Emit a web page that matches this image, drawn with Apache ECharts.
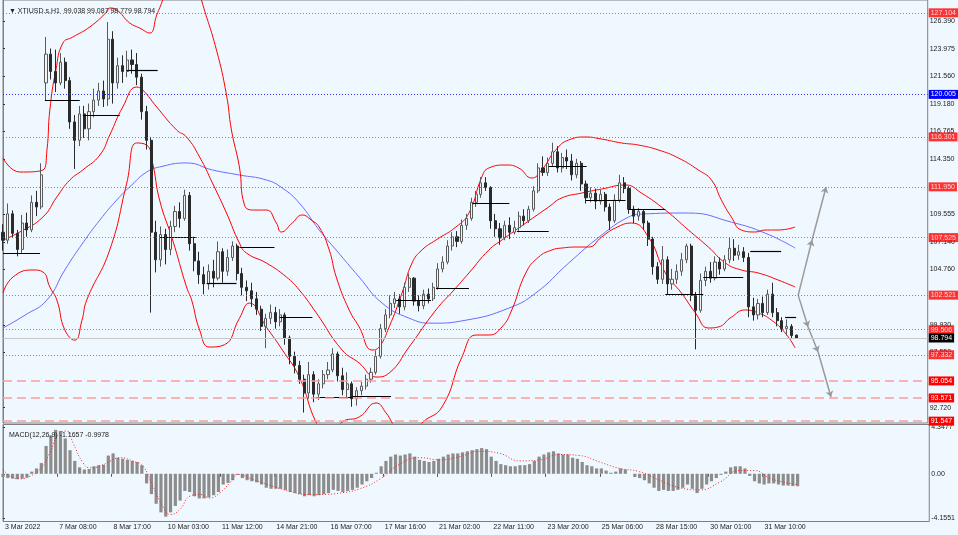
<!DOCTYPE html>
<html><head><meta charset="utf-8">
<script src="https://cdn.jsdelivr.net/npm/echarts@6/dist/echarts.min.js"></script>
<style>html,body{margin:0;padding:0;background:#F0F8FF;}#c{width:958px;height:535px;}</style>
</head><body><div id="c"></div>
<script>
// ---------- DATA ----------
const HOURS_PER_CANDLE = 3;
const xTickLabels = ['3 Mar 2022','7 Mar 08:00','8 Mar 17:00','10 Mar 03:00','11 Mar 12:00','14 Mar 21:00','16 Mar 07:00','17 Mar 16:00','21 Mar 02:00','22 Mar 11:00','23 Mar 20:00','25 Mar 06:00','28 Mar 15:00','30 Mar 01:00','31 Mar 10:00'];
const priceTicks = [126.390,123.975,121.560,119.180,116.765,114.350,109.555,107.140,104.760,99.930,97.550,92.720];
const macdTicks = [4.3477,0,-4.1551];
// open, close, low, high
const candleOHLC = [
[108.0,107.3,106.4,108.7],[107.3,109.6,107.0,110.5],[109.6,107.9,107.5,109.9],[107.9,106.5,105.9,108.2],[106.5,108.8,106.2,109.5],
[108.8,108.2,107.6,109.7],[108.2,110.6,108.0,111.2],[110.6,110.2,109.4,111.6],[110.2,113.0,110.0,114.0],[121.0,123.5,119.5,125.0],
[123.5,122.0,121.3,124.0],[122.0,121.0,120.2,123.9],[121.0,122.8,120.8,123.6],[122.8,121.2,120.5,123.2],[121.2,117.6,117.0,121.5],
[117.6,116.0,113.5,118.2],[116.0,118.3,115.5,119.0],[118.3,117.0,116.2,119.0],[117.0,118.5,116.0,119.2],[118.5,119.5,118.0,120.5],
[119.5,120.3,119.0,121.0],[120.3,119.6,118.9,121.2],[119.6,124.8,119.0,126.3],[124.8,121.0,119.2,125.5],[121.0,122.5,120.5,123.2],
[122.5,122.0,121.0,123.4],[122.0,123.0,121.5,123.8],[123.0,122.6,121.8,123.9],[122.6,121.5,120.8,123.6],[121.5,118.5,117.8,121.8],
[118.5,116.0,115.2,119.0],[116.0,108.0,101.0,116.3],[108.0,105.6,104.5,109.0],[105.6,107.8,105.0,108.5],[107.8,106.5,105.2,108.3],
[106.5,108.5,106.0,109.0],[108.5,109.8,108.0,110.3],[109.8,109.2,108.4,110.6],[109.2,111.2,109.0,111.7],[111.2,107.0,106.4,111.5],
[107.0,105.5,104.6,107.6],[105.5,104.3,103.5,106.3],[104.3,103.5,102.6,105.0],[103.5,104.6,103.0,105.2],[104.6,104.0,103.2,105.6],
[104.0,106.3,103.8,107.2],[106.3,104.6,103.6,106.6],[104.6,105.8,104.2,106.5],[105.8,106.8,105.5,107.2],[106.8,104.4,103.8,107.0],
[104.4,103.2,102.5,104.9],[103.2,102.9,102.0,103.8],[102.9,102.2,101.5,103.6],[102.2,101.3,100.8,102.8],[101.3,99.8,99.4,101.6],
[99.8,100.5,97.9,100.9],[100.5,101.0,100.0,101.7],[101.0,100.2,99.6,101.5],[100.2,100.8,99.8,101.3],[100.8,98.8,98.2,101.0],
[98.8,97.2,96.5,99.0],[97.2,96.4,95.7,97.6],[96.4,95.2,94.8,96.8],[95.2,94.0,92.3,95.6],[94.0,95.6,93.5,96.7],
[95.6,93.9,93.2,95.9],[93.9,94.8,93.4,95.2],[94.8,95.6,94.4,96.0],[95.6,96.0,95.2,96.7],[96.0,97.4,95.8,97.9],
[97.4,95.5,95.0,97.6],[95.5,94.3,93.8,96.2],[94.3,94.8,93.5,95.8],[94.8,93.5,92.8,95.0],[93.5,94.2,92.9,94.5],
[94.2,94.6,93.8,95.0],[94.6,95.2,94.3,95.6],[95.2,95.8,94.9,96.2],[95.8,97.2,95.6,97.7],[97.2,99.6,97.0,100.0],
[99.6,100.8,99.3,101.3],[100.8,101.8,100.5,102.5],[101.8,102.2,101.4,102.8],[102.2,101.5,100.9,102.6],[101.5,103.2,101.2,103.6],
[103.2,104.0,102.8,104.4],[104.0,102.0,101.6,104.1],[102.0,101.6,101.1,102.5],[101.6,102.6,101.3,103.0],[102.6,102.2,101.8,103.1],
[102.2,103.2,102.0,103.6],[103.2,104.8,103.0,105.3],[104.8,105.4,104.5,105.9],[105.4,106.8,105.2,107.3],[106.8,107.6,106.4,108.0],
[107.6,107.2,106.7,108.1],[107.2,108.6,107.0,109.1],[108.6,109.2,108.2,109.6],[109.2,110.6,109.0,111.0],[110.6,111.3,110.2,111.6],
[111.3,112.3,111.0,112.8],[112.3,111.9,111.6,112.8],[111.9,109.0,108.3,112.0],[109.0,108.3,107.6,109.6],[108.3,107.5,106.9,108.8],
[107.5,108.6,107.3,109.0],[108.6,108.0,107.4,109.3],[108.0,108.4,107.8,109.0],[108.4,109.4,108.0,109.8],[109.4,109.0,108.6,110.0],
[109.0,110.0,108.8,110.3],[110.0,111.6,109.8,112.0],[111.6,113.6,111.4,114.0],[113.6,113.2,112.9,114.6],[113.2,114.0,112.9,114.5],
[114.0,115.0,113.7,115.8],[115.0,113.6,113.2,115.5],[113.6,114.5,113.2,114.9],[114.5,114.2,113.5,115.2],[114.2,113.0,112.5,114.8],
[113.0,114.0,112.7,114.4],[114.0,112.2,111.6,114.2],[112.2,111.0,110.5,112.5],[111.0,111.4,110.6,111.9],[111.4,110.7,110.0,111.8],
[110.7,111.3,110.4,111.7],[111.3,110.2,109.8,111.5],[110.2,109.0,108.2,110.5],[109.0,110.8,108.8,111.3],[110.8,112.3,110.6,113.0],
[112.3,111.8,111.4,112.8],[111.8,110.0,109.6,112.0],[110.0,109.4,108.8,110.3],[109.4,109.8,109.0,110.1],[109.8,108.8,108.2,110.0],
[108.8,107.4,106.8,109.0],[107.4,105.0,104.3,107.6],[105.0,103.9,103.5,105.4],[103.9,105.6,103.5,106.8],[105.6,103.5,102.6,105.9],
[103.5,103.9,103.0,104.8],[103.9,104.6,103.5,105.2],[104.6,105.6,104.2,106.2],[105.6,106.8,105.3,107.0],[106.8,102.5,102.0,107.0],
[102.5,101.2,97.8,102.8],[101.2,103.8,101.0,104.4],[103.8,104.6,103.3,105.0],[104.6,104.0,103.6,105.4],[104.0,105.4,103.8,105.9],
[105.4,104.8,104.3,105.8],[104.8,105.6,104.6,106.0],[105.6,106.6,105.3,107.5],[106.6,106.0,105.5,107.4],[106.0,106.3,105.6,106.9],
[106.3,105.8,105.4,106.7],[105.8,101.5,100.6,106.2],[101.5,100.8,100.3,102.3],[100.8,101.8,100.4,102.2],[101.8,101.0,100.6,102.4],
[101.0,102.6,100.8,103.0],[102.6,101.0,100.6,103.6],[101.0,100.3,99.8,101.4],[100.3,99.6,99.3,100.6],[99.6,99.8,99.0,100.4],
[99.8,99.0,98.7,100.0],[99.038,98.794,98.779,99.087]
];
// Bollinger bands and MA: [hour index, price]
const bbUpper = [[0,114.46],[10.6,113.24],[25.1,113.42],[27.6,115.16],[29.4,118.64],[33.2,122.12],[37.6,124.47],[43.8,124.99],[54.5,125.87],[65.1,127.17],[67,127.52],[71.4,127.35],[79.5,126.22],[85.8,125.78],[92.1,125.34],[96.5,126.91],[100.2,128.22],[107.7,131.7],[117.1,132.13],[124.6,128.22],[134,123.87],[140.3,119.95],[143.4,116.9],[148.4,113.68],[151.6,110.37],[157.8,109.93],[165.3,109.93],[171.6,108.8],[174.7,108.02],[181.6,108.8],[187.9,109.5],[193.5,109.06],[198.5,108.45],[204.8,106.45],[209.2,104.1],[217.3,101.23],[223.6,99.75],[231.7,97.74],[236.1,98.0],[242.4,99.75],[250.5,102.71],[256.8,105.32],[263,106.45],[271.8,107.32],[284.3,108.45],[292.5,109.67],[300.6,112.81],[305,113.59],[315.7,113.85],[323.8,113.59],[331.9,112.72],[338.2,113.42],[347,115.16],[355.1,116.03],[365.8,116.29],[375.8,116.11],[388.3,115.77],[398.9,115.59],[411.4,115.16],[424,114.46],[436.5,113.42],[444.7,112.55],[451,110.8],[457.2,109.33],[463.5,108.19],[472.3,108.02],[478.5,108.19],[486.6,108.19],[497.3,108.45]];
const bbMiddle = [[0,107.32],[10.6,108.02],[25.1,109.33],[33.8,111.07],[42,112.55],[50.1,113.42],[60.8,114.72],[67,116.46],[75.2,118.9],[83.9,120.64],[87.7,120.38],[96.5,118.9],[109,116.9],[115.2,116.29],[123.4,114.55],[131.5,112.28],[140.3,109.67],[148.4,107.06],[152.8,106.19],[165.3,105.32],[177.9,104.1],[186,102.97],[196.7,100.97],[212.9,97.74],[223.6,96.61],[234.2,95.39],[242.4,95.74],[254.9,98.0],[271.8,101.23],[283.1,102.97],[292.5,104.45],[305,106.45],[313.2,107.32],[328.2,108.8],[342.6,110.2],[350.7,110.98],[363.3,111.41],[375.8,111.76],[390.8,112.11],[400.8,111.41],[415.8,109.93],[430.3,108.19],[442.8,106.71],[453.5,105.32],[463.5,104.71],[474.1,104.45],[486.6,103.84],[497.3,103.23]];
const bbLower = [[0,102.71],[6.3,104.1],[18.8,104.71],[25.1,104.53],[29.4,103.23],[33.8,102.1],[38.8,99.5],[45.1,98.6],[49.5,100.3],[52.6,102.1],[67,106.45],[77.7,112.28],[83.9,115.77],[90.2,115.59],[93.9,114.03],[98.3,110.8],[106.5,107.32],[115.2,103.23],[118.4,102.1],[123.4,99.5],[129.6,98.0],[139,98.2],[148.4,100.5],[154.7,101.83],[165.3,99.75],[175.4,97.74],[186,95.39],[196.7,91.39],[204.8,89.9],[212.9,91.48],[223.6,91.91],[234.2,93.13],[240.5,92.26],[244.3,91.39],[251.8,89.5],[263,91.39],[275.6,92.78],[288.1,97.13],[296.9,99.05],[305,99.05],[313.2,99.75],[319.4,101.23],[328.2,104.45],[336.3,105.84],[344.5,106.45],[350.7,106.62],[361.4,106.71],[367.6,106.71],[375.8,107.58],[384.5,108.37],[394.6,108.8],[405.2,107.58],[415.8,104.45],[425.9,102.71],[434.7,100.97],[442.8,99.66],[449.1,99.75],[457.2,100.6],[466,101.23],[474.1,100.97],[482.3,100.36],[491,99.23],[497.3,97.92]];
const maBlue = [[0,99.66],[13.8,100.78],[27.6,102.1],[38.8,104.71],[50.1,107.06],[60.8,109.06],[71.4,110.8],[80.8,112.11],[90.2,113.24],[98.3,113.68],[115.2,114.03],[131.5,113.42],[148.4,112.98],[165.3,112.55],[175.4,111.84],[186,110.54],[198.5,108.19],[209.2,106.44],[223.6,104.09],[238,101.83],[254.9,100.52],[269.3,100.08],[290.6,100.34],[317.5,101.39],[334.4,102.7],[355.1,105.31],[375.8,107.75],[392.7,109.32],[400.8,109.58],[430.3,109.67],[457.2,108.88],[478.5,107.92],[497.3,106.62]];
// daily open segments: [start hour, end hour, level]
const dailySegments = [[0,23.2,106.18],[26.3,48.2,119.51],[50.1,73.3,118.20],[77.7,97.1,122.12],[98.3,121.5,107.58],[127.8,146.6,103.57],[148.4,170.4,106.70],[173.5,194.2,100.61],[196.7,219.2,93.64],[219.2,243.6,93.72],[246.8,268.7,102.09],[271.8,292.5,103.13],[294.7,317.9,110.54],[322.6,342.6,108.10],[342.6,366.4,113.76],[365.8,390.8,110.80],[392.7,415.8,110.02],[415.8,439.6,102.61],[439.6,464.7,104.09],[469.1,488.5,106.36],[491.0,497.9,100.61]];
const redLevels = [127.104,116.301,111.950,107.525,102.521,99.506,97.332];
const blueLevels = [120.005];
const dashedLevels = [95.054,93.571,91.547];
const lastPrice = 98.794;
const projUp = [[499.2,102.52],[507.9,107.32],[516.7,111.94]];
const projDown = [[499.2,102.52],[505.4,99.75],[511.7,97.57],[519.8,93.65]];
const macdHist = [-0.3,-0.4,-0.45,-0.5,-0.45,-0.35,0.2,0.5,1.0,2.6,3.6,4.1,4.0,3.3,2.2,1.2,0.6,0.4,0.45,0.7,0.8,0.85,1.7,1.9,1.5,1.4,1.3,1.2,1.1,0.8,
-0.9,-1.9,-2.8,-3.6,-4.0,-3.6,-3.0,-2.5,-1.6,-1.7,-2.1,-2.3,-2.3,-2.2,-2.0,-1.7,-1.0,-0.85,-0.6,-0.1,-0.4,-0.6,-0.7,-0.8,-1.0,-1.3,-1.4,-1.4,-1.4,-1.5,
-1.7,-1.8,-1.9,-2.1,-2.0,-2.1,-2.0,-1.9,-1.8,-1.5,-1.6,-1.7,-1.6,-1.5,-1.3,-1.0,-0.7,-0.4,0.1,0.7,1.2,1.6,1.8,1.7,1.8,1.9,1.6,1.3,1.2,1.1,
1.2,1.4,1.6,1.8,1.9,1.9,2.0,2.1,2.2,2.3,2.4,2.3,1.6,1.2,0.9,0.8,0.7,0.7,0.8,0.8,0.9,1.2,1.6,1.8,2.0,2.1,1.9,1.8,1.8,1.5,
1.4,1.1,0.8,0.7,0.5,0.5,0.3,0.1,0.2,0.5,0.4,0.0,-0.3,-0.4,-0.6,-0.9,-1.3,-1.6,-1.5,-1.6,-1.6,-1.5,-1.3,-1.0,-1.4,-1.8,-1.4,-1.0,-0.7,-0.4,
-0.1,0.2,0.6,0.7,0.7,0.5,-0.2,-0.7,-0.9,-1.0,-0.9,-0.9,-1.0,-1.1,-1.1,-1.15,-1.1657];
const macdSignal = [[0,0.4],[4.4,-0.22],[10.6,-0.47],[16.9,-0.22],[23.2,0.4],[29.4,1.96],[35.7,3.83],[40.1,3.98],[43.8,2.9],[50.1,1.03],[54.5,0.56],[60.8,0.71],[67,1.18],[73.3,1.5],[81.4,1.18],[87.7,0.71],[93.9,-1.16],[100.2,-3.03],[104.6,-3.8],[110.8,-3.34],[117.1,-2.09],[123.4,-1.93],[129.6,-2.25],[135.9,-1.78],[142.2,-0.84],[147.2,-0.07],[156.6,-0.53],[169.1,-1.16],[179.7,-1.63],[190.4,-1.93],[198.5,-1.93],[211,-1.8],[223.6,-1.4],[236.1,-0.5],[248.6,0.9],[261.2,1.5],[273.7,1.3],[286.2,1.6],[298.7,2.1],[311.3,1.9],[323.8,1.2],[336.3,1.3],[348.9,1.8],[361.4,1.7],[373.9,1.1],[386.4,0.5],[398.9,0.2],[411.4,-0.6],[424,-1.3],[436.5,-1.5],[449.1,-0.8],[461.6,0.3],[471,0.3],[480.4,-0.4],[489.8,-0.8],[497.3,-0.9978]];

// ---------- CHART ----------
const FONT = 'Liberation Sans';
const X_MAX = 580.5, X_INT = 34;
const xTickValues = xTickLabels.map((_, i) => i * X_INT);
const chart = echarts.init(document.getElementById('c'));

function levelLabel(v, bg){
  return {show:true, position:'end', distance:1, formatter: v.toFixed(3), backgroundColor:bg, color:'#fff',
    fontSize:7, fontFamily:FONT, padding:[1,2,0,2], lineHeight:8};
}
const levelLines = [];
redLevels.forEach(v=>levelLines.push({yAxis:v, lineStyle:{color:'#ff3030',type:[1,2],width:1,opacity:0.8}, label:levelLabel(v,'#ff0000')}));
blueLevels.forEach(v=>levelLines.push({yAxis:v, lineStyle:{color:'#3030ff',type:[1,2],width:1}, label:levelLabel(v,'#0000ff')}));
dashedLevels.forEach(v=>levelLines.push({yAxis:v, lineStyle:{color:'#ff9a9a',type:[9,5],width:1.5}, label:levelLabel(v,'#ff0000')}));
levelLines.push({yAxis:lastPrice, lineStyle:{color:'#c8c8c8',type:'solid',width:1}, label:levelLabel(lastPrice,'#000000')});

const segLines = dailySegments.map(s=>[{coord:[s[0],s[2]]},{coord:[s[1],s[2]]}]);
const arrowLines = [];
[projUp, projDown].forEach(p=>{ for(let i=1;i<p.length;i++) arrowLines.push([{coord:p[i-1]},{coord:p[i]}]); });

const option = {
  animation:false,
  backgroundColor:'#F0F8FF',
  title:[
    {text:'\u25BC XTIUSD.s,H1  99.038 99.087 98.779 98.794', left:4, top:3, textStyle:{fontSize:7, fontWeight:'normal', color:'#222', fontFamily:FONT}},
    {text:'MACD(12,26,9) -1.1657 -0.9978', left:4, top:427, textStyle:{fontSize:7, fontWeight:'normal', color:'#222', fontFamily:FONT}}
  ],
  grid:[
    {left:3, right:28, top:0, height:423, show:true, borderColor:'#808080', borderWidth:1, backgroundColor:'#F0F8FF'},
    {left:3, right:28, top:424.5, height:97, show:true, borderColor:'#808080', borderWidth:1, backgroundColor:'#F0F8FF'}
  ],
  xAxis:[
    {gridIndex:0, type:'value', min:0, max:X_MAX, show:false},
    {gridIndex:1, type:'value', min:0, max:X_MAX, interval:X_INT, position:'bottom',
     axisLine:{show:false}, splitLine:{show:false},
     axisTick:{show:true, length:3, customValues:xTickValues, lineStyle:{color:'#555'}},
     axisLabel:{customValues:xTickValues, formatter:v=>xTickLabels[Math.round(v/X_INT)]||'', align:'left', padding:[0,0,0,2], margin:2, fontSize:7, color:'#222', fontFamily:FONT}}
  ],
  yAxis:[
    {gridIndex:0, type:'value', position:'right', min:91.388, max:128.218, splitLine:{show:false},
     axisLine:{show:true, lineStyle:{color:'#808080'}},
     axisTick:{show:true, length:2, customValues:priceTicks, lineStyle:{color:'#333'}},
     axisLabel:{customValues:priceTicks, formatter:v=>v.toFixed(3), margin:2, fontSize:7, color:'#222', fontFamily:FONT}},
    {gridIndex:1, type:'value', position:'right', min:-4.452, max:4.598, splitLine:{show:false},
     axisLine:{show:true, lineStyle:{color:'#808080'}},
     axisTick:{show:true, length:2, customValues:macdTicks, lineStyle:{color:'#333'}},
     axisLabel:{customValues:macdTicks, formatter:v=>v===0?'0.00':v.toFixed(4), margin:2, fontSize:7, color:'#222', fontFamily:FONT}}
  ],
  series:[
    {type:'line', xAxisIndex:0, yAxisIndex:0, data:maBlue, smooth:true, symbol:'none', lineStyle:{color:'#6b6bff', width:1}, z:2,
     markLine:{silent:true, symbol:['none','none'], data:levelLines, z:10}},
    {type:'line', xAxisIndex:0, yAxisIndex:0, data:bbUpper, smooth:true, symbol:'none', lineStyle:{color:'#ff0000', width:1}, z:3,
     markLine:{silent:true, symbol:['none','none'], label:{show:false}, lineStyle:{color:'#000', type:'solid', width:1.2}, data:segLines}},
    {type:'line', xAxisIndex:0, yAxisIndex:0, data:bbMiddle, smooth:true, symbol:'none', lineStyle:{color:'#ff0000', width:1}, z:3},
    {type:'line', xAxisIndex:0, yAxisIndex:0, data:bbLower, smooth:true, symbol:'none', lineStyle:{color:'#ff0000', width:1}, z:3,
     markLine:{silent:true, symbol:['none','arrow'], symbolSize:6, label:{show:false}, lineStyle:{color:'#9a9a9a', type:'solid', width:1.5}, data:arrowLines}},
    {type:'candlestick', xAxisIndex:0, yAxisIndex:0, z:4,
     data:candleOHLC.map((r,i)=>[i*HOURS_PER_CANDLE, r[0], r[1], r[2], r[3]]),
     encode:{x:0, y:[1,2,3,4]}, barWidth:2.6,
     itemStyle:{color:'#f4f4f4', color0:'#2a2a2a', borderColor:'#5a5a5a', borderColor0:'#2a2a2a', borderWidth:1}},
    {type:'bar', xAxisIndex:1, yAxisIndex:1, data:macdHist.map((v,i)=>[i*HOURS_PER_CANDLE, v]), barWidth:3.2,
     itemStyle:{color:'#8c8c8c'}},
    {type:'line', xAxisIndex:1, yAxisIndex:1, data:macdSignal, smooth:true, symbol:'none', lineStyle:{color:'#ff2020', width:1, type:[1,2]}}
  ]
};
chart.setOption(option);
</script></body></html>
